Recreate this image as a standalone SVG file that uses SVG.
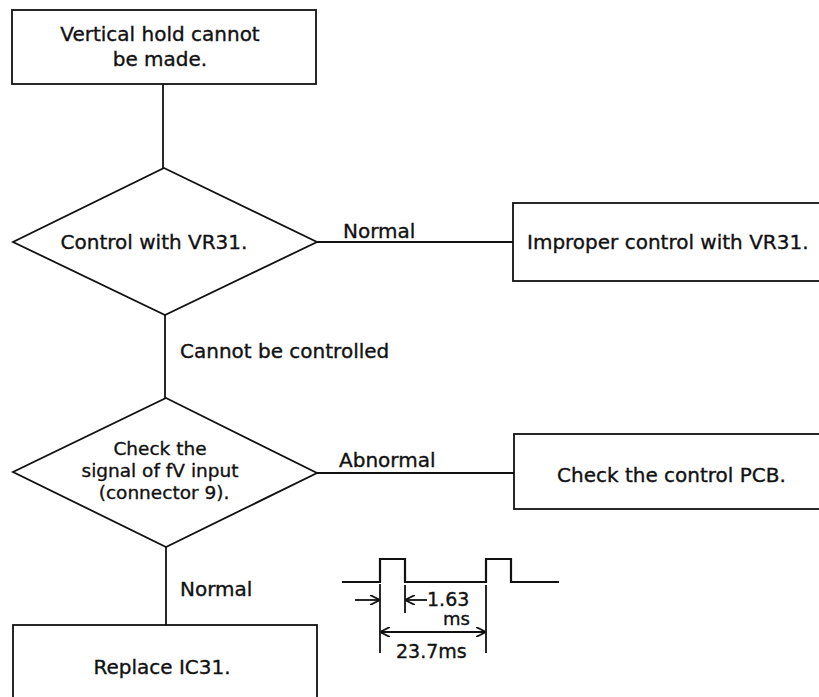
<svg xmlns="http://www.w3.org/2000/svg" width="819" height="697" viewBox="0 0 819 697">
<style>
.s{fill:none;stroke:#111;stroke-width:1.8}
.w{fill:none;stroke:#111;stroke-width:2.2}
.t{font-family:"DejaVu Sans","Liberation Sans",sans-serif;font-size:20px;fill:#111;stroke:#111;stroke-width:0.35}
.d{font-size:18.5px}
.m{text-anchor:middle}
</style>
<defs>
<marker id="ah" viewBox="0 0 10 10" refX="10" refY="5" markerWidth="10" markerHeight="10" markerUnits="userSpaceOnUse" orient="auto-start-reverse">
<path d="M0,0 L10,5 L0,10" fill="none" stroke="#111" stroke-width="1.8"/>
</marker>
</defs>
<rect width="819" height="697" fill="#fff"/>
<g id="connectors">
<line class="s" x1="163" y1="84" x2="163" y2="168"/>
<line class="s" x1="317" y1="242" x2="513" y2="242"/>
<line class="s" x1="165" y1="315" x2="165" y2="398"/>
<line class="s" x1="317" y1="473" x2="514" y2="473"/>
<line class="s" x1="166" y1="547" x2="166" y2="625"/>
<text class="t" x="343" y="238">Normal</text>
<text class="t" x="180" y="358">Cannot be controlled</text>
<text class="t" x="339" y="467">Abnormal</text>
<text class="t" x="180" y="596">Normal</text>
</g>
<g id="n1">
<rect class="s" x="12" y="10" width="304" height="74"/>
<text class="t m" x="160" y="41">Vertical hold cannot</text>
<text class="t m" x="160" y="66">be made.</text>
</g>
<g id="n2">
<path class="s" d="M164,168 L317,242 L165,315 L13,242 Z"/>
<text class="t m" x="154" y="249">Control with VR31.</text>
</g>
<g id="n3">
<rect class="s" x="513" y="203" width="320" height="78"/>
<text class="t" x="527" y="249">Improper control with VR31.</text>
</g>
<g id="n4">
<path class="s" d="M166,398 L317,473 L166,547 L13,472 Z"/>
<text class="t m d" x="160" y="455">Check the</text>
<text class="t m d" x="160" y="477">signal of fV input</text>
<text class="t m d" x="164" y="499">(connector 9).</text>
</g>
<g id="n5">
<rect class="s" x="514" y="434" width="320" height="75"/>
<text class="t" x="557" y="482">Check the control PCB.</text>
</g>
<g id="n6">
<rect class="s" x="13" y="625" width="304" height="90"/>
<text class="t m" x="162" y="674">Replace IC31.</text>
</g>
<g id="waveform">
<path class="w" d="M342,582 H380 V559 H405 V582 H486 V559 H511 V582 H559"/>
<line class="s" x1="380" y1="584" x2="380" y2="653"/>
<line class="s" x1="405" y1="585" x2="405" y2="613"/>
<line class="s" x1="486" y1="585" x2="486" y2="653"/>
<line class="s" x1="355" y1="600" x2="380" y2="600" marker-end="url(#ah)"/>
<line class="s" x1="427" y1="600" x2="405" y2="600" marker-end="url(#ah)"/>
<line class="s" x1="380" y1="632" x2="486" y2="632" marker-start="url(#ah)" marker-end="url(#ah)"/>
<text class="t" x="427" y="606" style="font-size:19px">1.63</text>
<text class="t" x="443" y="625" style="font-size:18px">ms</text>
<text class="t" x="396" y="658" style="font-size:19px">23.7ms</text>
</g>
</svg>
